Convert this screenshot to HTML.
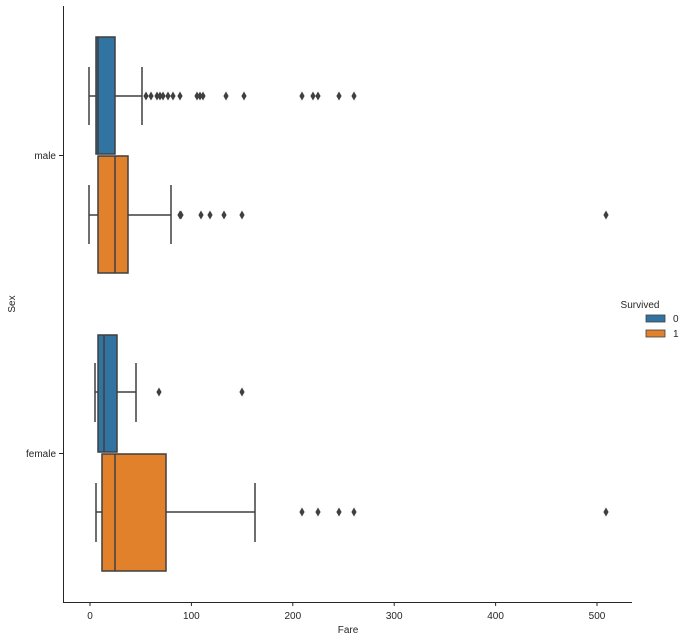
<!DOCTYPE html>
<html><head><meta charset="utf-8"><style>body{margin:0;background:#fff}svg{display:block}text{font-family:"Liberation Sans","DejaVu Sans",sans-serif;font-size:10px;fill:#262626}</style></head><body>
<svg width="693" height="640" viewBox="0 0 693 640" xmlns="http://www.w3.org/2000/svg">
<defs><path id="d" d="M0,-4.5 L2.6,0 L0,4.5 L-2.6,0 Z" fill="#3f3f3f"/></defs>
<g stroke="#3f3f3f" stroke-width="1.5" fill="none">
<!-- male died -->
<line x1="89" y1="96" x2="96" y2="96"/><line x1="115" y1="96" x2="142" y2="96"/>
<line x1="89" y1="67" x2="89" y2="125"/><line x1="142" y1="67" x2="142" y2="125"/>
<rect x="96" y="37" width="19" height="117" fill="#3274a1"/><line x1="98" y1="37" x2="98" y2="154"/>
<!-- male survived -->
<line x1="89" y1="215" x2="98" y2="215"/><line x1="128" y1="215" x2="171" y2="215"/>
<line x1="89" y1="185" x2="89" y2="244"/><line x1="171" y1="185" x2="171" y2="244"/>
<rect x="98" y="156" width="30" height="117" fill="#e1812c"/><line x1="115" y1="156" x2="115" y2="273"/>
<!-- female died -->
<line x1="95" y1="392" x2="98" y2="392"/><line x1="117" y1="392" x2="136" y2="392"/>
<line x1="95" y1="363" x2="95" y2="422"/><line x1="136" y1="363" x2="136" y2="422"/>
<rect x="98" y="335" width="19" height="117" fill="#3274a1"/><line x1="104" y1="335" x2="104" y2="452"/>
<!-- female survived -->
<line x1="96" y1="512" x2="102" y2="512"/><line x1="166" y1="512" x2="255" y2="512"/>
<line x1="96" y1="483" x2="96" y2="542"/><line x1="255" y1="483" x2="255" y2="542"/>
<rect x="102" y="454" width="64" height="117" fill="#e1812c"/><line x1="115" y1="454" x2="115" y2="571"/>
</g>
<g>
<use href="#d" x="146" y="96"/><use href="#d" x="151" y="96"/><use href="#d" x="157" y="96"/><use href="#d" x="160" y="96"/><use href="#d" x="163" y="96"/><use href="#d" x="168" y="96"/><use href="#d" x="173" y="96"/><use href="#d" x="180" y="96"/><use href="#d" x="197" y="96"/><use href="#d" x="200" y="96"/><use href="#d" x="203" y="96"/><use href="#d" x="226" y="96"/><use href="#d" x="244" y="96"/><use href="#d" x="302" y="96"/><use href="#d" x="313" y="96"/><use href="#d" x="318" y="96"/><use href="#d" x="339" y="96"/><use href="#d" x="354" y="96"/>
<use href="#d" x="180" y="215"/><use href="#d" x="181" y="215"/><use href="#d" x="201" y="215"/><use href="#d" x="210" y="215"/><use href="#d" x="224" y="215"/><use href="#d" x="242" y="215"/><use href="#d" x="606" y="215"/>
<use href="#d" x="159" y="392"/><use href="#d" x="242" y="392"/>
<use href="#d" x="302" y="512"/><use href="#d" x="318" y="512"/><use href="#d" x="339" y="512"/><use href="#d" x="354" y="512"/><use href="#d" x="606" y="512"/>
</g>
<g stroke="#262626" stroke-width="1">
<line x1="63.5" y1="6" x2="63.5" y2="602"/><line x1="63" y1="602.5" x2="632" y2="602.5"/>
<line x1="59" y1="155.5" x2="63" y2="155.5"/><line x1="59" y1="453.5" x2="63" y2="453.5"/>
<line x1="90" y1="602" x2="90" y2="606"/><line x1="191.4" y1="602" x2="191.4" y2="606"/><line x1="292.8" y1="602" x2="292.8" y2="606"/><line x1="394.2" y1="602" x2="394.2" y2="606"/><line x1="495.6" y1="602" x2="495.6" y2="606"/><line x1="597" y1="602" x2="597" y2="606"/>
</g>
<g text-anchor="middle">
<text x="90" y="619">0</text><text x="191.4" y="619">100</text><text x="292.8" y="619">200</text><text x="394.2" y="619">300</text><text x="495.6" y="619">400</text><text x="597" y="619">500</text>
<text x="348" y="633">Fare</text>
</g>
<text x="56" y="159" text-anchor="end">male</text>
<text x="56" y="457" text-anchor="end">female</text>
<text transform="translate(15,304) rotate(-90)" text-anchor="middle">Sex</text>
<text x="640" y="308" text-anchor="middle">Survived</text>
<rect x="646" y="315" width="19" height="7" fill="#3274a1" stroke="#3f3f3f" stroke-width="0.8"/>
<rect x="646" y="330" width="19" height="7" fill="#e1812c" stroke="#3f3f3f" stroke-width="0.8"/>
<text x="673" y="322">0</text><text x="673" y="337">1</text>
</svg>
</body></html>
